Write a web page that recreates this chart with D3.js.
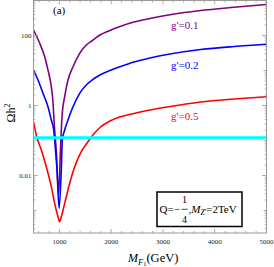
<!DOCTYPE html>
<html><head><meta charset="utf-8">
<script src="https://cdn.jsdelivr.net/npm/d3@7"></script>
<style>html,body{margin:0;padding:0;background:#fff;}svg{display:block;}</style>
</head><body>
<script>
// ---- data ----
const xTicks = [1000, 2000, 3000, 4000, 5000];
const yTickLabels = [0.01, 1, 100];
const relicDensity = 0.12;

const massG01 = [500, 620, 716, 780, 844, 877, 896, 909, 940, 985, 1020, 1037, 1056, 1102, 1166, 1263, 1392, 1519, 1649, 1784, 1977, 2170, 2441, 2750, 3078, 3729, 4372, 5000];
const omegaG01 = [143, 60, 24.8, 10.3, 3.44, 1.18, 0.385, 0.2, 0.05, 0.003, 0.05, 0.2, 0.61, 1.78, 5.35, 12.8, 31, 53.5, 74, 103, 139, 181, 243, 306, 378, 518, 640, 769];

const massG02 = [500, 587, 683, 780, 844, 890, 909, 954, 995, 1037, 1056, 1102, 1166, 1263, 1392, 1519, 1649, 1784, 1977, 2170, 2441, 2750, 3078, 3729, 4372, 5000];
const omegaG02 = [10.3, 5.35, 2.23, 0.92, 0.385, 0.2, 0.103, 0.0144, 0.00116, 0.0144, 0.103, 0.2, 0.385, 0.92, 2.23, 3.85, 5.6, 7.44, 10.0, 12.8, 17.5, 22.8, 28.6, 39.8, 48.5, 56.1];

const massG05 = [500, 554, 651, 747, 844, 909, 973, 1003, 1037, 1102, 1199, 1296, 1423, 1552, 1649, 1784, 1977, 2170, 2441, 2750, 3078, 3729, 4372, 5000];
const omegaG05 = [0.344, 0.144, 0.0535, 0.0178, 0.0048, 0.0016, 0.000665, 0.00048, 0.000665, 0.0016, 0.006, 0.0178, 0.0479, 0.0924, 0.144, 0.235, 0.361, 0.469, 0.591, 0.744, 0.906, 1.26, 1.53, 1.78];

const seriesNames = ["g'=0.1", "g'=0.2", "g'=0.5"];
const seriesColors = ["#800080", "#0000ff", "#ff0000"];

// ---- layout ----
const W = 274, H = 267;
const L = 33.5, R = 266.5, T = 0.5, B = 233;

const svg = d3.select("body").append("svg").attr("width", W).attr("height", H);
const x = d3.scaleLinear().domain([500, 5000]).range([L, R]);
const y = d3.scaleLog().domain([2.28e-4, 1000]).range([B, T]);

const serif = "'Liberation Serif','Times New Roman',serif";
const frameColor = "#999";

svg.append("clipPath").attr("id", "pc").append("rect")
  .attr("x", L).attr("y", T).attr("width", R - L).attr("height", B - T);

// curves
const series = [
  {m: massG05, o: omegaG05, c: seriesColors[2]},
  {m: massG01, o: omegaG01, c: seriesColors[0]},
  {m: massG02, o: omegaG02, c: seriesColors[1]}
];
const line = d3.line().x(d => x(d[0])).y(d => y(d[1])).curve(d3.curveMonotoneX);
const gc = svg.append("g").attr("clip-path", "url(#pc)");
series.forEach(s => {
  gc.append("path").datum(s.m.map((v, i) => [v, s.o[i]]))
    .attr("d", line).attr("fill", "none").attr("stroke", s.c).attr("stroke-width", 1.6);
});
gc.append("line").attr("x1", L).attr("x2", R).attr("y1", y(relicDensity)).attr("y2", y(relicDensity))
  .attr("stroke", "#00ffff").attr("stroke-width", 3);

// frame
svg.append("rect").attr("x", L).attr("y", T).attr("width", R - L).attr("height", B - T)
  .attr("fill", "none").attr("stroke", frameColor).attr("stroke-width", 1);

// x ticks (bottom & top, inward)
const xMinor = d3.range(600, 5000, 200).filter(v => v % 1000 !== 0);
const xTickG = svg.append("g").attr("stroke", frameColor).attr("stroke-width", 0.8);
xTicks.forEach(v => {
  xTickG.append("line").attr("x1", x(v)).attr("x2", x(v)).attr("y1", B).attr("y2", B - 4);
  xTickG.append("line").attr("x1", x(v)).attr("x2", x(v)).attr("y1", T).attr("y2", T + 4);
});
xMinor.forEach(v => {
  xTickG.append("line").attr("x1", x(v)).attr("x2", x(v)).attr("y1", B).attr("y2", B - 2);
  xTickG.append("line").attr("x1", x(v)).attr("x2", x(v)).attr("y1", T).attr("y2", T + 2);
});
svg.append("g").selectAll("text").data(xTicks).join("text")
  .attr("x", d => x(d)).attr("y", 244).attr("text-anchor", "middle")
  .attr("font-family", serif).attr("font-size", 7).attr("fill", "#222").text(d => d);

// y ticks (left & right, inward)
const yTickG = svg.append("g").attr("stroke", frameColor).attr("stroke-width", 0.8);
for (let d = -4; d <= 3; d++) {
  for (let k = 1; k <= 9; k++) {
    const v = k * Math.pow(10, d);
    if (v < 2.28e-4 || v > 1000) continue;
    const len = k === 1 ? (Math.abs(d % 2) === 0 ? 4.5 : 3) : 1.8;
    yTickG.append("line").attr("x1", L).attr("x2", L + len).attr("y1", y(v)).attr("y2", y(v));
    yTickG.append("line").attr("x1", R).attr("x2", R - len).attr("y1", y(v)).attr("y2", y(v));
  }
}
svg.append("g").selectAll("text").data(yTickLabels).join("text")
  .attr("x", 31.5).attr("y", d => y(d) + 2.5).attr("text-anchor", "end")
  .attr("font-family", serif).attr("font-size", 7).attr("fill", "#222").text(d => d);

// axis titles
const yl = svg.append("text").attr("transform", "translate(15,113) rotate(-90)")
  .attr("text-anchor", "middle").attr("font-family", serif).attr("font-size", 12).attr("fill", "#000");
yl.append("tspan").text("Ωh");
yl.append("tspan").attr("font-size", 8).attr("dy", -5).text("2");

const xl = svg.append("text").attr("x", 128).attr("y", 262)
  .attr("font-family", serif).attr("font-size", 12).attr("fill", "#000");
xl.append("tspan").attr("font-style", "italic").text("M");
xl.append("tspan").attr("font-style", "italic").attr("font-size", 8.5).attr("dy", 2.5).text("F");
xl.append("tspan").attr("font-size", 6.5).attr("dy", 1.5).text("1");
xl.append("tspan").attr("dy", -4).attr("font-size", 12.5).text("(GeV)");

// panel tag
svg.append("text").attr("x", 53).attr("y", 13.5).attr("font-family", serif).attr("font-size", 11)
  .attr("fill", "#000").text("(a)");

// curve labels
const labelY = [29, 68.5, 120];
seriesNames.forEach((n, i) => {
  svg.append("text").attr("x", 171).attr("y", labelY[i]).attr("font-family", serif)
    .attr("font-size", 11).attr("fill", seriesColors[i]).text(n);
});

// info box
svg.append("rect").attr("x", 157).attr("y", 192).attr("width", 85).attr("height", 34.5)
  .attr("fill", "#fff").attr("stroke", "#000").attr("stroke-width", 1.5);
svg.append("text").attr("x", 159.5).attr("y", 213.3).attr("font-family", serif).attr("font-size", 11).text("Q=−");
svg.append("text").attr("x", 184.6).attr("y", 202.5).attr("text-anchor", "middle").attr("font-family", serif).attr("font-size", 10).text("1");
svg.append("line").attr("x1", 181.5).attr("x2", 187.8).attr("y1", 209.3).attr("y2", 209.3).attr("stroke", "#000").attr("stroke-width", 0.7);
svg.append("text").attr("x", 184.6).attr("y", 222.5).attr("text-anchor", "middle").attr("font-family", serif).attr("font-size", 10).text("4");
const bt = svg.append("text").attr("x", 188.5).attr("y", 213.3).attr("font-family", serif).attr("font-size", 11);
bt.append("tspan").text(",");
bt.append("tspan").attr("font-style", "italic").text("M");
bt.append("tspan").attr("font-style", "italic").attr("font-size", 7.5).attr("dy", 2).text("Z'");
bt.append("tspan").attr("dy", -2).text("=2TeV");
</script>
</body></html>
